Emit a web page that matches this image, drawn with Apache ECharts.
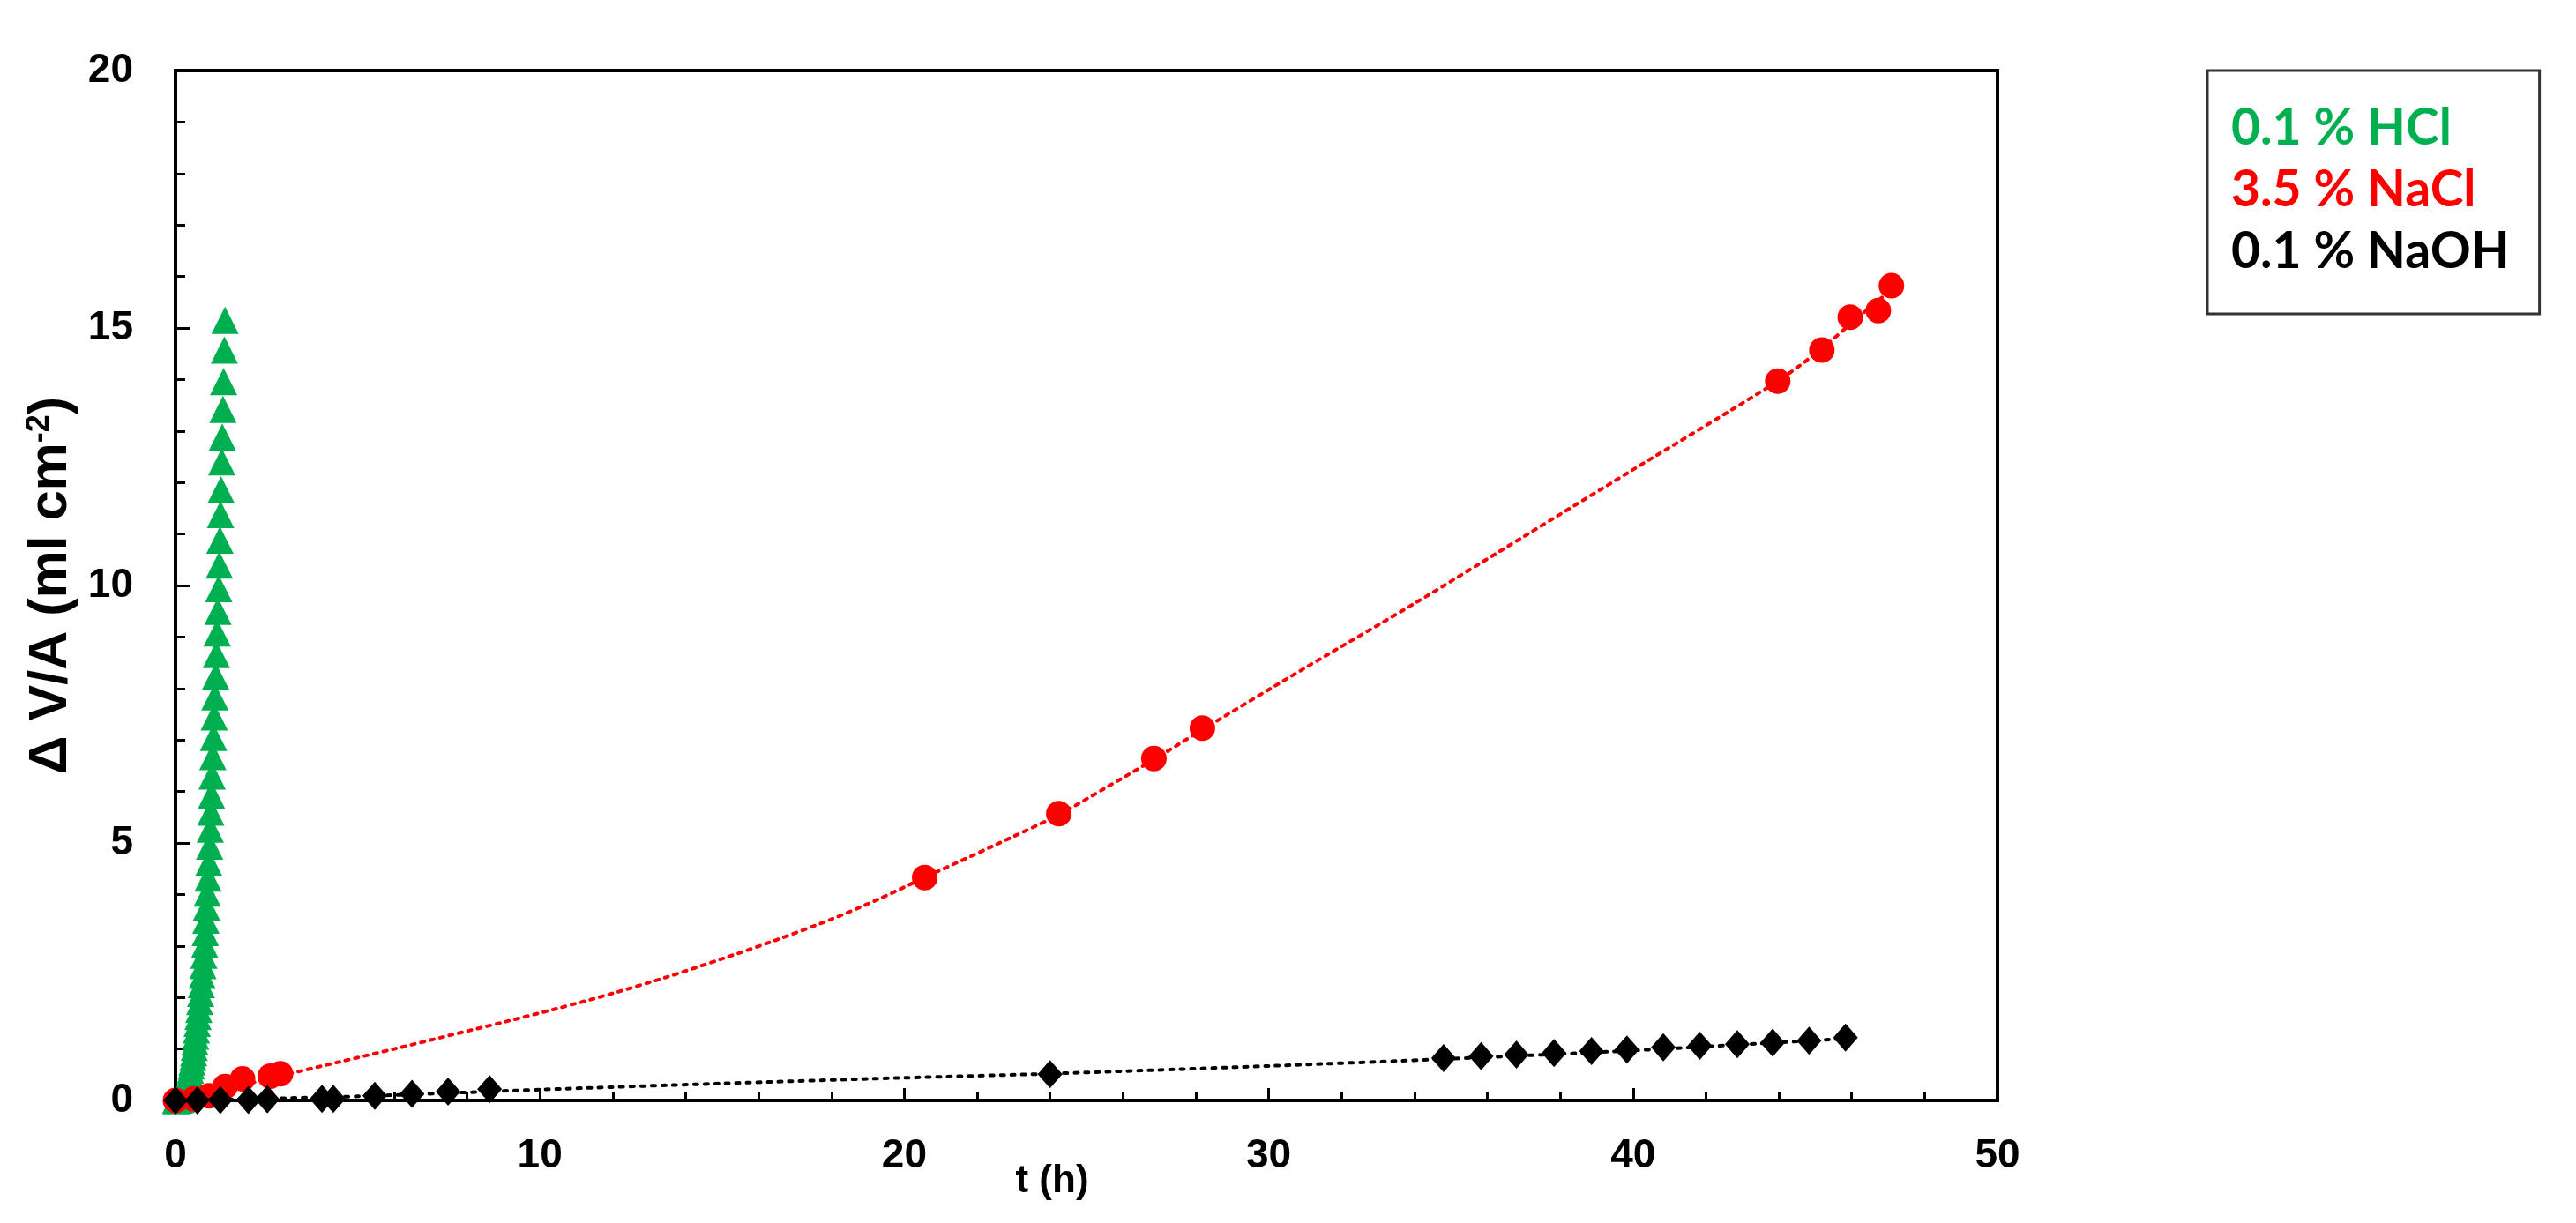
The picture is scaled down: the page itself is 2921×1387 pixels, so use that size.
<!DOCTYPE html>
<html>
<head>
<meta charset="utf-8">
<script src="https://cdn.jsdelivr.net/npm/echarts@6/dist/echarts.min.js"></script>
<style>
html,body{margin:0;padding:0;background:#fff;}
#c{width:2921px;height:1387px;}
</style>
</head>
<body>
<div id="c"></div>
<script>
// ---- data ----
const hclT = [0.00,0.05,0.10,0.15,0.19,0.22,0.25,0.27,0.29,0.305,0.32,0.335,0.347,0.362,0.376,0.395,0.41,0.434,0.454,0.476,0.498,0.515,0.534,0.553,0.573,0.595,0.617,0.641,0.666,0.69,0.71,0.732,0.754,0.778,0.802,0.818,0.835,0.853,0.872,0.892,0.913,0.936,0.954,0.97,0.987,1.005,1.024,1.043,1.063,1.082,1.102,1.123,1.144,1.165,1.187,1.203,1.219,1.236,1.251,1.269,1.285,1.303,1.321,1.341,1.36];
const hclY = [0.00,0.00,0.01,0.02,0.04,0.06,0.09,0.12,0.15,0.19,0.23,0.28,0.33,0.39,0.45,0.52,0.59,0.67,0.75,0.84,0.93,1.03,1.14,1.25,1.37,1.50,1.63,1.77,1.92,2.08,2.25,2.43,2.62,2.82,3.03,3.26,3.50,3.76,4.03,4.32,4.62,4.94,5.27,5.60,5.93,6.30,6.68,7.05,7.45,7.84,8.24,8.66,9.08,9.50,9.94,10.40,10.88,11.38,11.86,12.40,12.88,13.42,13.96,14.57,15.15];

const naclT = [0.0,0.5,0.92,1.36,1.84,2.6,2.88,20.56,24.24,26.85,28.18,43.97,45.18,45.96,46.73,47.09];
const naclY = [0.0,0.03,0.09,0.27,0.42,0.47,0.52,4.33,5.57,6.64,7.23,13.97,14.57,15.21,15.34,15.82];
const naclFitT = [0,1.5,2.9,4.5,6,7.5,9,10.5,12,13.5,15,16.5,18,19.3,20.56,22.4,24.24,25.5,26.85,28.18,31,34,37,40,43.97,45.18,46,47.1];
const naclFitY = [0,0.24,0.48,0.75,1.0,1.26,1.52,1.79,2.08,2.4,2.75,3.12,3.52,3.91,4.33,4.93,5.55,6.06,6.62,7.2,8.4,9.65,10.95,12.25,13.97,14.6,15.1,15.75];

const naohT = [0.0,0.6,1.23,2.0,2.52,4.02,4.33,5.47,6.49,7.48,8.62,24.0,34.8,35.83,36.8,37.83,38.86,39.83,40.83,41.83,42.86,43.83,44.83,45.83];
const naohY = [0.0,0.0,0.01,0.01,0.02,0.03,0.03,0.09,0.13,0.17,0.22,0.51,0.82,0.86,0.89,0.92,0.96,0.99,1.03,1.06,1.09,1.12,1.16,1.22];
const naohFitT = [0,5,10,15,20,24,30,35,40,45.83];
const naohFitY = [0,0.08,0.21,0.33,0.44,0.52,0.67,0.81,0.97,1.2];

const seriesNames = ['0.1 % HCl','3.5 % NaCl','0.1 % NaOH'];
const xTicks = [0,10,20,30,40,50];
const yTicks = [0,5,10,15,20];

// ---- build ----
const zip = (a,b) => a.map((v,i)=>[v,b[i]]);
const GREEN = '#00b050', RED = '#ff0000', BLACK = '#000000';
const axisFont = 'Liberation Sans, Arial, sans-serif';

const chart = echarts.init(document.getElementById('c'));
chart.setOption({
  animation:false,
  backgroundColor:'#ffffff',
  grid:{left:199,right:656,top:80,bottom:139,show:true,borderColor:'#000',borderWidth:4,backgroundColor:'transparent'},
  legend:{
    orient:'vertical', left:2503, top:80,
    icon:'rect', itemWidth:0, itemHeight:0, itemGap:6,
    padding:[34,34,38,22],
    borderColor:'#333', borderWidth:3, selectedMode:false,
    textStyle:{fontFamily:'Lato', fontWeight:'bold', fontSize:57, lineHeight:64},
    data:[
      {name:seriesNames[0], textStyle:{color:GREEN}},
      {name:seriesNames[1], textStyle:{color:RED}},
      {name:seriesNames[2], textStyle:{color:BLACK}}
    ]
  },
  xAxis:{
    type:'value', min:xTicks[0], max:xTicks[xTicks.length-1], interval:10,
    name:'t (h)', nameLocation:'middle', nameGap:70, nameMoveOverlap:false,
    nameTextStyle:{fontFamily:axisFont, fontWeight:'bold', fontSize:44, color:'#000', padding:[0,78,0,0]},
    axisLine:{lineStyle:{color:'#000',width:4}},
    axisTick:{inside:true,length:14,lineStyle:{color:'#000',width:3}},
    minorTick:{show:true,splitNumber:5,length:9,lineStyle:{color:'#000',width:3}},
    splitLine:{show:false},
    axisLabel:{margin:40,fontFamily:axisFont,fontWeight:'bold',fontSize:46,color:'#000'}
  },
  yAxis:{
    type:'value', min:yTicks[0], max:yTicks[yTicks.length-1], interval:5,
    name:'{a|Δ V/A (ml cm}{s|-2}{a|)}', nameLocation:'middle', nameRotate:90, nameGap:110,
    nameTextStyle:{
      rich:{
        a:{fontFamily:axisFont,fontWeight:'bold',fontSize:61,color:'#000'},
        s:{fontFamily:axisFont,fontWeight:'bold',fontSize:36,color:'#000',verticalAlign:'top',padding:[0,0,26,0]}
      }
    },
    axisLine:{lineStyle:{color:'#000',width:4}},
    axisTick:{inside:true,length:17,lineStyle:{color:'#000',width:3}},
    minorTick:{show:true,splitNumber:5,length:11,lineStyle:{color:'#000',width:3}},
    splitLine:{show:false},
    axisLabel:{margin:48,fontFamily:axisFont,fontWeight:'bold',fontSize:46,color:'#000'}
  },
  series:[
    {name:seriesNames[0], type:'scatter', symbol:'triangle', symbolSize:31,
     itemStyle:{color:GREEN,opacity:1}, data:zip(hclT,hclY), z:2},
    {name:'nacl-fit', type:'line', smooth:0.3, symbol:'none', silent:true,
     lineStyle:{color:RED,width:4,type:[4,7],cap:'round'}, data:zip(naclFitT,naclFitY), z:3},
    {name:seriesNames[1], type:'scatter', symbol:'circle', symbolSize:29,
     itemStyle:{color:RED,opacity:1}, data:zip(naclT,naclY), z:4},
    {name:'naoh-fit', type:'line', smooth:0.3, symbol:'none', silent:true,
     lineStyle:{color:BLACK,width:4,type:[4,8],cap:'round'}, data:zip(naohFitT,naohFitY), z:5},
    {name:seriesNames[2], type:'scatter', symbol:'diamond', symbolSize:[28,32],
     itemStyle:{color:BLACK,opacity:1}, data:zip(naohT,naohY), z:6}
  ]
});
</script>
</body>
</html>
